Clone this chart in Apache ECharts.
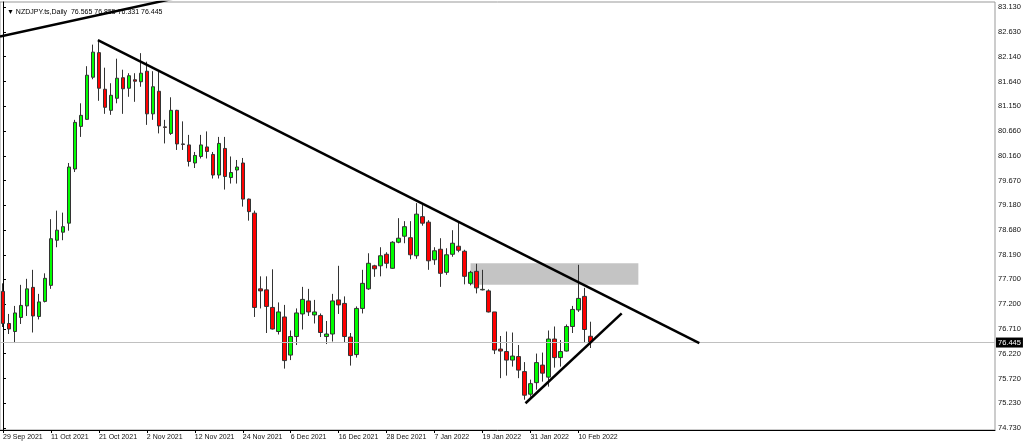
<!DOCTYPE html>
<html><head><meta charset="utf-8">
<script src="https://cdn.jsdelivr.net/npm/echarts@6/dist/echarts.min.js"></script>
<style>html,body{margin:0;padding:0;background:#fff;overflow:hidden}#c{width:1024px;height:447px}</style>
</head><body><div id="c"></div>
<script>
const dates = [
 '29 Sep 2021','30 Sep 2021',
 '1 Oct 2021','4 Oct 2021','5 Oct 2021','6 Oct 2021','7 Oct 2021','8 Oct 2021','11 Oct 2021','12 Oct 2021','13 Oct 2021','14 Oct 2021','15 Oct 2021','18 Oct 2021','19 Oct 2021','20 Oct 2021','21 Oct 2021','22 Oct 2021','25 Oct 2021','26 Oct 2021','27 Oct 2021','28 Oct 2021','29 Oct 2021',
 '1 Nov 2021','2 Nov 2021','3 Nov 2021','4 Nov 2021','5 Nov 2021','8 Nov 2021','9 Nov 2021','10 Nov 2021','11 Nov 2021','12 Nov 2021','15 Nov 2021','16 Nov 2021','17 Nov 2021','18 Nov 2021','19 Nov 2021','22 Nov 2021','23 Nov 2021','24 Nov 2021','25 Nov 2021','26 Nov 2021','29 Nov 2021','30 Nov 2021',
 '1 Dec 2021','2 Dec 2021','3 Dec 2021','6 Dec 2021','7 Dec 2021','8 Dec 2021','9 Dec 2021','10 Dec 2021','13 Dec 2021','14 Dec 2021','15 Dec 2021','16 Dec 2021','17 Dec 2021','20 Dec 2021','21 Dec 2021','22 Dec 2021','23 Dec 2021','24 Dec 2021','27 Dec 2021','28 Dec 2021','29 Dec 2021','30 Dec 2021','31 Dec 2021',
 '3 Jan 2022','4 Jan 2022','5 Jan 2022','6 Jan 2022','7 Jan 2022','10 Jan 2022','11 Jan 2022','12 Jan 2022','13 Jan 2022','14 Jan 2022','17 Jan 2022','18 Jan 2022','19 Jan 2022','20 Jan 2022','21 Jan 2022','24 Jan 2022','25 Jan 2022','26 Jan 2022','27 Jan 2022','28 Jan 2022','31 Jan 2022',
 '1 Feb 2022','2 Feb 2022','3 Feb 2022','4 Feb 2022','7 Feb 2022','8 Feb 2022','9 Feb 2022','10 Feb 2022','11 Feb 2022','14 Feb 2022'
];
const opens = [
 77.46,76.82,76.66,76.94,77.17,77.54,76.96,77.26,77.58,78.48,
 78.64,78.82,79.90,80.75,80.89,81.73,82.22,81.49,81.07,81.31,
 81.72,81.51,81.68,81.64,81.85,81.00,81.45,80.74,80.61,81.07,
 80.40,80.38,80.02,80.15,80.34,80.19,79.78,80.31,79.73,79.88,
 80.02,79.30,79.02,77.51,77.49,77.14,76.66,76.95,76.19,76.56,
 77.01,77.27,76.99,76.98,76.56,76.61,77.29,77.22,76.55,76.20,
 77.12,77.51,77.97,77.97,78.20,77.92,78.44,78.56,78.53,78.17,
 78.95,78.84,78.09,78.30,77.84,78.20,78.36,78.26,77.62,77.86,
 77.49,77.47,77.05,76.31,76.26,76.09,76.16,75.86,75.41,75.64,
 75.99,75.75,76.51,76.14,76.27,76.76,77.09,77.36,76.565
];
const closes = [
 76.82,76.71,77.03,77.18,77.51,76.97,77.25,77.72,78.51,78.68,
 78.75,79.94,80.83,80.97,81.77,82.23,81.51,81.13,81.37,81.71,
 81.50,81.76,81.65,81.81,81.00,81.54,80.76,80.73,81.07,80.40,
 80.39,80.05,80.17,80.38,80.25,79.78,80.41,79.75,79.83,79.94,
 79.30,79.05,77.14,77.47,77.16,76.71,77.05,76.08,76.56,77.03,
 77.30,77.05,77.05,76.64,76.61,77.27,77.19,76.56,76.18,77.12,
 77.62,78.02,77.91,78.17,78.02,78.44,78.52,78.75,78.19,79.00,
 78.82,78.07,78.27,77.82,78.19,78.42,78.28,77.76,77.84,77.53,
 77.50,77.05,76.29,76.27,76.09,76.17,75.89,75.39,75.62,76.04,
 75.83,76.51,76.14,76.26,76.76,77.10,77.32,76.70,76.445
];
const lows = [
 76.75,76.61,76.43,76.81,76.97,76.64,76.90,77.24,77.51,78.34,
 78.48,78.67,79.84,80.54,80.88,81.69,81.26,81.00,80.98,81.21,
 81.00,81.34,81.24,81.54,80.78,80.88,80.61,80.41,80.58,80.28,
 80.28,79.95,79.92,80.11,80.11,79.71,79.71,79.49,79.61,79.61,
 79.15,78.87,76.95,77.12,76.63,76.70,76.60,75.92,76.09,76.39,
 76.70,76.97,76.82,76.55,76.41,76.46,77.01,76.44,75.98,76.14,
 77.02,77.49,77.75,77.76,77.92,77.91,78.42,78.42,78.10,78.11,
 78.77,77.89,77.99,77.55,77.79,78.15,78.24,77.60,77.58,77.42,
 77.48,77.04,76.21,75.73,75.78,75.96,75.73,75.30,75.36,75.50,
 75.66,75.56,75.94,75.96,76.26,76.63,77.05,76.43,76.331
];
const highs = [
 77.62,77.01,77.17,77.59,77.71,77.89,77.41,77.82,78.90,79.07,
 79.03,80.02,80.88,81.21,81.95,82.38,82.47,81.92,81.61,82.10,
 81.88,81.81,81.81,82.21,82.04,81.85,81.85,80.88,81.33,81.08,
 80.85,80.58,80.24,80.58,80.65,80.24,80.54,80.54,80.15,80.08,
 80.12,79.31,79.07,77.76,77.76,77.90,77.24,77.19,76.68,77.12,
 77.55,77.51,77.29,77.02,76.87,77.41,77.97,77.36,76.63,77.16,
 77.89,78.22,77.99,78.34,78.24,78.46,78.92,78.86,78.86,79.22,
 79.19,78.88,78.34,78.52,78.32,78.68,78.84,78.29,77.87,78.01,
 77.89,77.50,77.05,76.57,76.66,76.64,76.39,76.05,75.70,76.22,
 76.24,76.68,76.76,76.49,76.80,77.17,77.99,77.53,76.855
];
// price scale tick labels (right axis)
const priceTicks = [74.73,75.23,75.72,76.22,76.71,77.20,77.70,78.19,78.68,79.18,79.67,80.16,80.66,81.15,81.64,82.14,82.63,83.13];
// drawn objects: [bar position, price]
const trendTop  = [[-0.5, 82.54], [40, 83.60]];
const trendDown = [[15.83, 82.47], [116.17, 76.43]];
const trendUp   = [[87.17, 75.23], [103.22, 77.02]];
const zoneX = [78.0, 106.0];
const zoneY = [77.59, 78.02];
const symbolName = 'NZDJPY.ts,Daily';

const SLOTS = 166;
const LABEL_STEP = 8;
const cats = dates.concat(new Array(SLOTS - dates.length).fill(''));
const candles = dates.map((d, i) => [opens[i], closes[i], lows[i], highs[i]]);
const last = dates.length - 1;
const FONT = "'Liberation Sans','DejaVu Sans',sans-serif";
const showDate = (i, v) => v !== '' && i % LABEL_STEP === 0;

const chart = echarts.init(document.getElementById('c'), null, {renderer: 'canvas'});
const trendSeries = (data) => ({
  type: 'line', xAxisIndex: 1, yAxisIndex: 0, data: data, symbol: 'none', silent: true,
  clip: true, z: 5, lineStyle: {color: '#000', width: 2.5}
});
chart.setOption({
  animation: false,
  backgroundColor: '#fff',
  title: {
    text: '\u25BC ' + symbolName + '  ' + [opens[last], highs[last], lows[last], closes[last]].map(v => v.toFixed(3)).join(' '),
    left: 2, top: 4,
    textStyle: {fontFamily: FONT, fontSize: 7, fontWeight: 'normal', color: '#000'}
  },
  grid: {left: 0, right: 29, top: 2, bottom: 17, show: true, borderColor: '#999', borderWidth: 1},
  xAxis: [
    {
      type: 'category', data: cats, boundaryGap: true,
      axisLine: {show: true, lineStyle: {color: '#000'}},
      axisTick: {show: true, alignWithLabel: true, interval: showDate, length: 3, lineStyle: {color: '#000'}},
      axisLabel: {interval: showDate, align: 'left', fontSize: 7, fontFamily: FONT, color: '#111', margin: 4},
      splitLine: {show: false}
    },
    {type: 'value', min: -0.5, max: SLOTS - 0.5, show: false}
  ],
  yAxis: {
    type: 'value', position: 'right', min: 74.696, max: 83.23,
    axisLine: {show: true, lineStyle: {color: '#000'}},
    axisTick: {show: true, length: 3, customValues: priceTicks, lineStyle: {color: '#000'}},
    axisLabel: {customValues: priceTicks, formatter: v => v.toFixed(3), fontSize: 7.5, fontFamily: FONT, color: '#111', margin: 3},
    splitLine: {show: false}
  },
  series: [
    {
      type: 'line', xAxisIndex: 1, yAxisIndex: 0, silent: true, symbol: 'none', z: 1,
      data: [[zoneX[0], zoneY[0]], [zoneX[1], zoneY[1]]],
      lineStyle: {opacity: 0},
      markArea: {silent: true, itemStyle: {color: '#c4c4c4'},
        data: [[{coord: [zoneX[0], zoneY[1]]}, {coord: [zoneX[1], zoneY[0]]}]]}
    },
    {
      type: 'candlestick', xAxisIndex: 0, yAxisIndex: 0, data: candles, barWidth: 4, z: 3,
      itemStyle: {color: '#00ff00', color0: '#ff0000', borderColor: '#333', borderColor0: '#333', borderWidth: 1},
      markLine: {
        silent: true, symbol: ['none', 'none'], animation: false,
        lineStyle: {color: '#c0c0c0', width: 1, type: 'solid'},
        label: {position: 'end', formatter: closes[last].toFixed(3), backgroundColor: '#000', color: '#fff',
          padding: [1, 2], fontSize: 7.5, fontFamily: FONT, distance: 1},
        data: [{yAxis: closes[last]}]
      }
    },
    trendSeries(trendTop),
    trendSeries(trendDown),
    trendSeries(trendUp)
  ]
});
</script></body></html>
